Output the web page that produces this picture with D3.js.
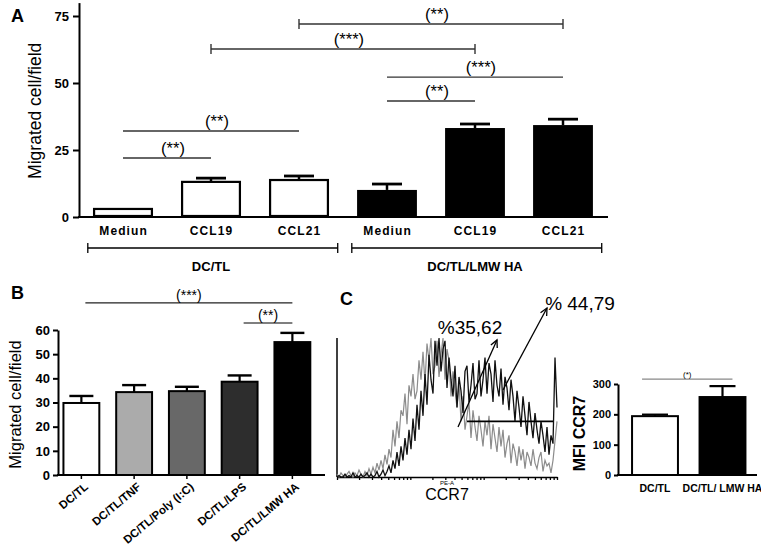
<!DOCTYPE html>
<html><head><meta charset="utf-8">
<script src="https://cdn.jsdelivr.net/npm/d3@7"></script>
<style>
body{margin:0;background:#fff}
svg{display:block}
text{font-family:"Liberation Sans",Arial,Helvetica,sans-serif;fill:#000}
</style>
</head><body>
<svg id="c" width="761" height="552"></svg>
<script>
// ---------- Panel A data ----------
const aCategories = ["Mediun","CCL19","CCL21","Mediun","CCL19","CCL21"];
const aGroupOf = [0,0,0,1,1,1];
const aGroupLabels = ["DC/TL","DC/TL/LMW HA"];
const aMeans = [3.0,13.1,13.8,10.1,33.2,34.3];
const aSem = [0.3,1.4,1.5,2.2,1.5,2.2];
const aTicks = [0,25,50,75];
const aSig = [
  {from:2,to:5,level:72.0,label:"(**)",ends:true},
  {from:1,to:4,level:62.7,label:"(***)",ends:true},
  {from:3,to:5,level:52.2,label:"(***)",ends:false},
  {from:3,to:4,level:43.3,label:"(**)",ends:false},
  {from:0,to:2,level:32.1,label:"(**)",ends:false},
  {from:0,to:1,level:22.0,label:"(**)",ends:false}
];
// ---------- Panel B data ----------
const bCategories = ["DC/TL","DC/TL/TNF","DC/TL/Poly (I:C)","DC/TL/LPS","DC/TL/LMW HA"];
const bMeans = [29.8,34.3,34.7,38.6,55.0];
const bSem = [2.9,2.9,1.8,2.6,3.8];
const bTicks = [0,10,20,30,40,50,60];
const bSig = [
  {from:0,to:4,level:71.2,label:"(***)"},
  {from:3,to:4,level:62.9,label:"(**)"}
];
// ---------- Panel C data ----------
const cCategories = ["DC/TL","DC/TL/ LMW HA"];
const cMeans = [194,257];
const cSem = [5,36];
const cTicks = [0,100,200,300];
const cSig = {from:0,to:1,level:316,label:"(*)"};
// CCR7 histogram counts (per channel), gray = DC/TL, black = DC/TL/LMW HA
const histGray = [2,0,3,1,0,2,4,1,0,3,1,5,2,0,4,1,6,
  2,7,3,10,5,12,6,16,9,20,
  14,34,22,40,28,48,
  44,60,38,66,58, 74,56,62,84,70, 90,68,96,84,100, 74,80,98,72,88,
  100,70,92,84,58, 76,62,50,68,40, 58,34,44,54,28, 48,36,26,44,34,
  22,40,30,44,20, 38,28,18,36,22, 34,14,24,30,10, 24,18,8,22,12,
  20,6,18,14,8, 20,10,6,14,18, 4,12,8,10,3,
  12,26,40];
const histBlack = [0,1,0,0,2,0,1,0,3,0,1,0,2,0,1,3,0,2,0,1,4,0,2,5,1,4,
  8,3,12,6,18, 8,22,12,28,16, 34,20,42,26,52, 34,62,44,74,52,
  88,70,60,98,80, 100,76,92,98,64, 86,70,58,80,50, 72,62,46,76,80,
  54,66,82,56,60, 84,58,70,86,60, 82,74,54,84,66, 58,78,52,72,64,
  48,70,58,40,62, 50,36,58,44,30, 54,40,28,46,34, 24,40,30,18,36,
  16,30,24,86,50];
const histLogTicks = [1,2,3,4,5,6,7,8,9,10,20,30,40,50,60,70,80,90,100,200,300,400,500,600,700,800,900,1000];
const gate = {from:65,to:108,level:40};
const arrows = [{x1:60.5,y1:36,x2:80,y2:98.6},{x1:83,y1:62.6,x2:105,y2:121.6}];
const pctLabels = [{ch:66.5,count:103,text:"%35,62"},{ch:121.5,count:120,text:"% 44,79"}];

const svg = d3.select("#c");
const FONT = '"Liberation Sans",Arial,sans-serif';

function styleAxis(g, w, fs){
  g.selectAll("path,line").attr("stroke","#000").attr("stroke-width",w);
  g.selectAll("text").attr("font-size",fs).attr("font-weight","bold").attr("font-family",FONT).attr("fill","#000");
}

// ================= Panel A =================
const xA = d3.scaleBand().domain(d3.range(aCategories.length)).range([79,607]).paddingInner(0.32).paddingOuter(0.16);
const yA = d3.scaleLinear().domain([0,80]).range([217,2.6]);
const cA = i => xA(i)+xA.bandwidth()/2;
const gA = svg.append("g");
gA.append("text").attr("x",11).attr("y",22).attr("font-size",18).attr("font-weight","bold").text("A");
const axA = gA.append("g").attr("transform","translate(79,0)")
  .call(d3.axisLeft(yA).tickValues(aTicks).tickSize(6).tickSizeOuter(0).tickPadding(4));
styleAxis(axA,2,13);
gA.append("line").attr("x1",78).attr("x2",608).attr("y1",yA(0)).attr("y2",yA(0)).attr("stroke","#000").attr("stroke-width",2);
gA.append("text").attr("transform",`translate(41,${(yA(0)+yA(80))/2+1}) rotate(-90)`)
  .attr("text-anchor","middle").attr("font-size",17.5).text("Migrated cell/field");
aMeans.forEach((m,i)=>{
  const black = aGroupOf[i]===1;
  gA.append("rect").attr("x",xA(i)+(black?0:1)).attr("width",xA.bandwidth()-(black?0:2))
    .attr("y",yA(m)).attr("height",yA(0)-yA(m)-(black?0:1))
    .attr("fill",black?"#000":"#fff").attr("stroke","#000").attr("stroke-width",black?0:2.2);
  if(aSem[i]>0.5){
    gA.append("line").attr("x1",cA(i)).attr("x2",cA(i)).attr("y1",yA(m)).attr("y2",yA(m+aSem[i])).attr("stroke","#000").attr("stroke-width",2.5);
    gA.append("line").attr("x1",cA(i)-15).attr("x2",cA(i)+15).attr("y1",yA(m+aSem[i])).attr("y2",yA(m+aSem[i])).attr("stroke","#000").attr("stroke-width",2.8);
  }
  gA.append("text").attr("x",cA(i)+0.6).attr("y",235).attr("text-anchor","middle")
    .attr("font-size",12).attr("font-weight","bold").attr("letter-spacing",1.1).text(aCategories[i]);
});
const stepA = xA.step();
aGroupLabels.forEach((lab,gi)=>{
  const idx = aGroupOf.map((g,i)=>g===gi?i:-1).filter(i=>i>=0);
  const x1 = cA(idx[0])-0.4*stepA, x2 = cA(idx[idx.length-1])+0.44*stepA;
  gA.append("line").attr("x1",x1).attr("x2",x2).attr("y1",248).attr("y2",248).attr("stroke","#000").attr("stroke-width",1.3);
  [x1,x2].forEach(x=>gA.append("line").attr("x1",x).attr("x2",x).attr("y1",243).attr("y2",253).attr("stroke","#000").attr("stroke-width",1.3));
  gA.append("text").attr("x",cA(idx[1])).attr("y",271).attr("text-anchor","middle").attr("font-size",13).attr("font-weight","bold").text(lab);
});
aSig.forEach(s=>{
  const x1=cA(s.from), x2=cA(s.to), y=yA(s.level);
  gA.append("line").attr("x1",x1).attr("x2",x2).attr("y1",y).attr("y2",y).attr("stroke","#333").attr("stroke-width",1.4);
  if(s.ends){[x1,x2].forEach(x=>gA.append("line").attr("x1",x).attr("x2",x).attr("y1",y-5).attr("y2",y+5).attr("stroke","#333").attr("stroke-width",1.4));}
  gA.append("text").attr("x",(x1+x2)/2+6).attr("y",y-4).attr("text-anchor","middle").attr("font-size",16.5).text(s.label);
});

// ================= Panel B =================
const xB = d3.scaleBand().domain(d3.range(bCategories.length)).range([55,318.75]).paddingInner(0.32).paddingOuter(0.16);
const yB = d3.scaleLinear().domain([0,60]).range([475,330]);
const cB = i => xB(i)+xB.bandwidth()/2;
const bFills = ["#ffffff","#ababab","#686868","#2d2d2d","#000000"];
const gB = svg.append("g");
gB.append("text").attr("x",11).attr("y",299).attr("font-size",18).attr("font-weight","bold").text("B");
const axB = gB.append("g").attr("transform","translate(58,0)")
  .call(d3.axisLeft(yB).tickValues(bTicks).tickSize(5).tickSizeOuter(0).tickPadding(3));
styleAxis(axB,2,13);
gB.append("line").attr("x1",57).attr("x2",325).attr("y1",yB(0)).attr("y2",yB(0)).attr("stroke","#000").attr("stroke-width",2);
gB.append("text").attr("transform",`translate(21,${(yB(0)+yB(60))/2+2}) rotate(-90)`)
  .attr("text-anchor","middle").attr("font-size",16.5).text("Migrated cell/field");
bMeans.forEach((m,i)=>{
  gB.append("rect").attr("x",xB(i)).attr("width",xB.bandwidth()).attr("y",yB(m)).attr("height",yB(0)-yB(m))
    .attr("fill",bFills[i]).attr("stroke","#000").attr("stroke-width",2);
  gB.append("line").attr("x1",cB(i)).attr("x2",cB(i)).attr("y1",yB(m)).attr("y2",yB(m+bSem[i])).attr("stroke","#000").attr("stroke-width",2.2);
  gB.append("line").attr("x1",cB(i)-12).attr("x2",cB(i)+12).attr("y1",yB(m+bSem[i])).attr("y2",yB(m+bSem[i])).attr("stroke","#000").attr("stroke-width",2.4);
  gB.append("line").attr("x1",cB(i)).attr("x2",cB(i)).attr("y1",yB(0)).attr("y2",yB(0)+4).attr("stroke","#000").attr("stroke-width",1.5);
  gB.append("text").attr("transform",`translate(${cB(i)+5},${yB(0)+10}) rotate(-40)`)
    .attr("text-anchor","end").attr("dy","0.35em").attr("font-size",11.5).attr("font-weight","bold").text(bCategories[i]);
});
bSig.forEach((s,k)=>{
  const x1=cB(s.from)+4, x2=cB(s.to), y=yB(s.level);
  gB.append("line").attr("x1",x1).attr("x2",x2).attr("y1",y).attr("y2",y).attr("stroke",k===0?"#222":"#555").attr("stroke-width",1.3);
  gB.append("text").attr("x",(x1+x2)/2).attr("y",y-3).attr("text-anchor","middle").attr("font-size",14).text(s.label);
});

// ================= Panel C : histogram =================
const gC = svg.append("g");
gC.append("text").attr("x",340).attr("y",305).attr("font-size",18).attr("font-weight","bold").text("C");
const xH = d3.scaleLinear().domain([0,histGray.length-1]).range([337,557]);
const yH = d3.scaleLinear().domain([0,100]).range([477,338]);
const xLog = d3.scaleLog().domain([1,1000]).range([337,557]);
const axH = gC.append("g").attr("transform",`translate(0,${yH(0)})`)
  .call(d3.axisBottom(xLog).tickValues(histLogTicks).tickSize(3).tickSizeOuter(0).tickFormat(""));
axH.selectAll("path,line").attr("stroke","#000").attr("stroke-width",1.3);
gC.append("line").attr("x1",337).attr("x2",337).attr("y1",yH(100)).attr("y2",yH(0)).attr("stroke","#000").attr("stroke-width",1.5);
const line = d3.line().x((d,i)=>xH(i)).y(d=>yH(d));
gC.append("path").datum(histGray).attr("d",line).attr("fill","none").attr("stroke","#8c8c8c").attr("stroke-width",1.2);
gC.append("path").datum(histBlack).attr("d",line).attr("fill","none").attr("stroke","#111").attr("stroke-width",1.3);
gC.append("line").attr("x1",xH(gate.from)).attr("x2",xH(gate.to)).attr("y1",yH(gate.level)).attr("y2",yH(gate.level)).attr("stroke","#000").attr("stroke-width",1.6);
arrows.forEach(a=>{
  const x1=xH(a.x1),y1=yH(a.y1),x2=xH(a.x2),y2=yH(a.y2);
  gC.append("line").attr("x1",x1).attr("y1",y1).attr("x2",x2).attr("y2",y2).attr("stroke","#000").attr("stroke-width",1.3);
  const ang=Math.atan2(y2-y1,x2-x1), L=8, sp=0.45;
  gC.append("path").attr("d",`M${x2-L*Math.cos(ang-sp)},${y2-L*Math.sin(ang-sp)}L${x2},${y2}L${x2-L*Math.cos(ang+sp)},${y2-L*Math.sin(ang+sp)}`)
    .attr("fill","none").attr("stroke","#000").attr("stroke-width",1.3);
});
pctLabels.forEach(p=>gC.append("text").attr("x",xH(p.ch)).attr("y",yH(p.count)).attr("text-anchor","middle").attr("font-size",19).text(p.text));
gC.append("text").attr("x",447).attr("y",485).attr("text-anchor","middle").attr("font-size",6).text("PE-A");
gC.append("text").attr("x",447).attr("y",500).attr("text-anchor","middle").attr("font-size",16).text("CCR7");

// ================= Panel C : MFI bars =================
const xC = d3.scaleBand().domain(d3.range(cCategories.length)).range([621.25,756.25]).paddingInner(0.32).paddingOuter(0.16);
const yC = d3.scaleLinear().domain([0,300]).range([475,384]);
const cC = i => xC(i)+xC.bandwidth()/2;
const axC = gC.append("g").attr("transform","translate(618,0)")
  .call(d3.axisLeft(yC).tickValues(cTicks).tickSize(4).tickSizeOuter(0).tickPadding(3));
styleAxis(axC,2,11);
gC.append("line").attr("x1",617).attr("x2",757).attr("y1",yC(0)).attr("y2",yC(0)).attr("stroke","#000").attr("stroke-width",2);
gC.append("text").attr("transform",`translate(585,${(yC(0)+yC(300))/2+4}) rotate(-90)`)
  .attr("text-anchor","middle").attr("font-size",16).attr("font-weight","bold").text("MFI CCR7");
cMeans.forEach((m,i)=>{
  gC.append("rect").attr("x",xC(i)).attr("width",xC.bandwidth()).attr("y",yC(m)).attr("height",yC(0)-yC(m))
    .attr("fill",i===0?"#fff":"#000").attr("stroke","#000").attr("stroke-width",2);
  gC.append("line").attr("x1",cC(i)).attr("x2",cC(i)).attr("y1",yC(m)).attr("y2",yC(m+cSem[i])).attr("stroke","#000").attr("stroke-width",2.2);
  gC.append("line").attr("x1",cC(i)-13).attr("x2",cC(i)+13).attr("y1",yC(m+cSem[i])).attr("y2",yC(m+cSem[i])).attr("stroke","#000").attr("stroke-width",2.2);
  gC.append("text").attr("x",cC(i)).attr("y",492).attr("text-anchor","middle").attr("font-size",10.5).attr("font-weight","bold").text(cCategories[i]);
});
{
  const x1 = xC(cSig.from)+10, x2 = xC(cSig.to)+xC.bandwidth()-13, y = yC(cSig.level);
  gC.append("line").attr("x1",x1).attr("x2",x2).attr("y1",y).attr("y2",y).attr("stroke","#888").attr("stroke-width",1.3);
  gC.append("text").attr("x",(x1+x2)/2).attr("y",y-2).attr("text-anchor","middle").attr("font-size",8).text(cSig.label);
}
</script>
</body></html>
